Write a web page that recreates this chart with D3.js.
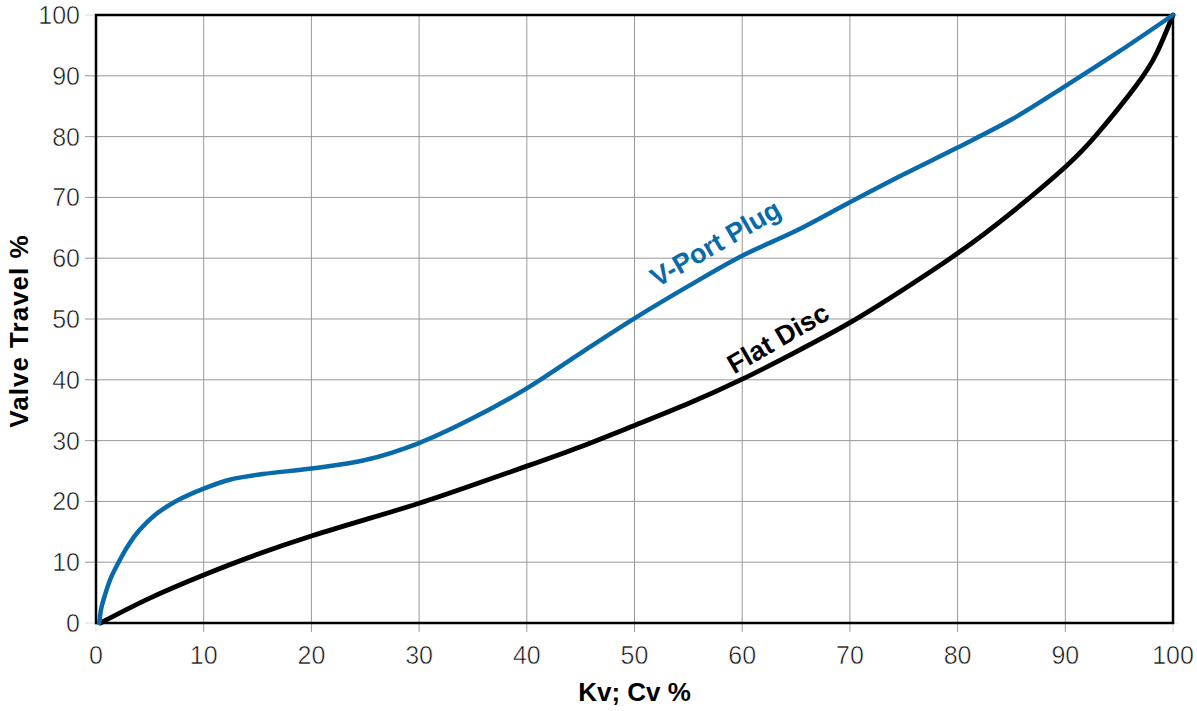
<!DOCTYPE html>
<html><head><meta charset="utf-8">
<script src="https://cdn.jsdelivr.net/npm/d3@7"></script>
<style>
body{margin:0;background:#fff;}
svg text{font-family:"Liberation Sans",Arial,sans-serif;}
</style></head>
<body><svg id="chart" width="1197" height="711"></svg>
<script>
const xTicks = [0,10,20,30,40,50,60,70,80,90,100];
const yTicks = [0,10,20,30,40,50,60,70,80,90,100];
const vportKv = [0.3,0.5,0.9,1.4,2.1,3,4,5.5,7.5,10,12.5,15.5,20,25,30,35,40,45,50,55,60,65,70,75,80,85,90,95,100];
const vportTravel = [0,2.5,5,7.5,10,12.8,15.2,17.8,20.1,22.1,23.6,24.5,25.4,26.8,29.6,33.7,38.6,44.4,50.1,55.4,60.4,64.5,69.2,73.8,78.2,82.8,88.3,94,100];
const flatKv = [0.4,5,10,15,20,25,30,35,40,45,50,55,60,65,70,75,80,85,90,93,96.5,98.5,100];
const flatTravel = [0,4.1,7.9,11.3,14.3,17,19.7,22.7,25.8,29,32.5,36.1,40.1,44.6,49.4,54.9,60.8,67.5,75,80.5,88.2,93.8,100];
const xTitle = "Kv; Cv %";
const yTitle = "Valve Travel %";
const labelVport = "V-Port Plug";
const labelFlat = "Flat Disc";

const svg = d3.select("#chart");
const L=96, R=1173, T=15, B=623;
const x = d3.scaleLinear().domain([0,100]).range([L,R]);
const y = d3.scaleLinear().domain([0,100]).range([B,T]);

// grid
const g = svg.append("g");
g.selectAll(".vx").data(xTicks).enter().append("line")
  .attr("x1",d=>x(d)).attr("x2",d=>x(d)).attr("y1",T).attr("y2",B+9)
  .attr("stroke",d=>(d===0||d===100)?"#ddd":"#999").attr("stroke-width",1);
g.selectAll(".hy").data(yTicks).enter().append("line")
  .attr("y1",d=>y(d)).attr("y2",d=>y(d)).attr("x1",L-11).attr("x2",R+5)
  .attr("stroke",d=>(d===0||d===100)?"#ddd":"#999").attr("stroke-width",1);

// tick labels (thinned with white stroke to mimic a light face)
svg.selectAll(".xl").data(xTicks).enter().append("text")
  .attr("x",d=>x(d)).attr("y",664).attr("text-anchor","middle")
  .attr("font-size",25).attr("fill","#111").attr("stroke","#fff").attr("stroke-width",0.55)
  .text(d=>d);
svg.selectAll(".yl").data(yTicks).enter().append("text")
  .attr("x",80).attr("y",d=>y(d)+9).attr("text-anchor","end")
  .attr("font-size",25).attr("fill","#111").attr("stroke","#fff").attr("stroke-width",0.55)
  .text(d=>d);

// frame
svg.append("rect").attr("x",L).attr("y",T).attr("width",R-L).attr("height",B-T)
  .attr("fill","none").attr("stroke","#000").attr("stroke-width",2.5);

// curves
const lineFlat = d3.line().x(d=>x(d[0])).y(d=>y(d[1])).curve(d3.curveNatural);
const lineVport = d3.line().x(d=>x(d[0])).y(d=>y(d[1])).curve(d3.curveCatmullRom.alpha(0.5));
svg.append("path").datum(flatKv.map((k,i)=>[k,flatTravel[i]]))
  .attr("d",lineFlat).attr("fill","none").attr("stroke","#000").attr("stroke-width",4.8).attr("stroke-linecap","round");
svg.append("path").datum(vportKv.map((k,i)=>[k,vportTravel[i]]))
  .attr("d",lineVport).attr("fill","none").attr("stroke","#086aa9").attr("stroke-width",4.5).attr("stroke-linecap","round");

// labels
svg.append("text").attr("transform",`translate(${x(57.5)},${y(62.5)}) rotate(-30)`)
  .attr("text-anchor","middle").attr("dy","0.36em").attr("font-size",27).attr("font-weight","bold").attr("fill","#086aa9").text(labelVport);
svg.append("text").attr("transform",`translate(${x(63.3)},${y(46.9)}) rotate(-30)`)
  .attr("text-anchor","middle").attr("dy","0.36em").attr("font-size",27).attr("font-weight","bold").attr("fill","#000").text(labelFlat);

// axis titles
svg.append("text").attr("x",(L+R)/2).attr("y",701).attr("text-anchor","middle")
  .attr("font-size",26).attr("font-weight","bold").text(xTitle);
svg.append("text").attr("transform",`translate(28,${331}) rotate(-90)`).attr("text-anchor","middle")
  .attr("font-size",26).attr("font-weight","bold").attr("letter-spacing",1).text(yTitle);
</script></body></html>
